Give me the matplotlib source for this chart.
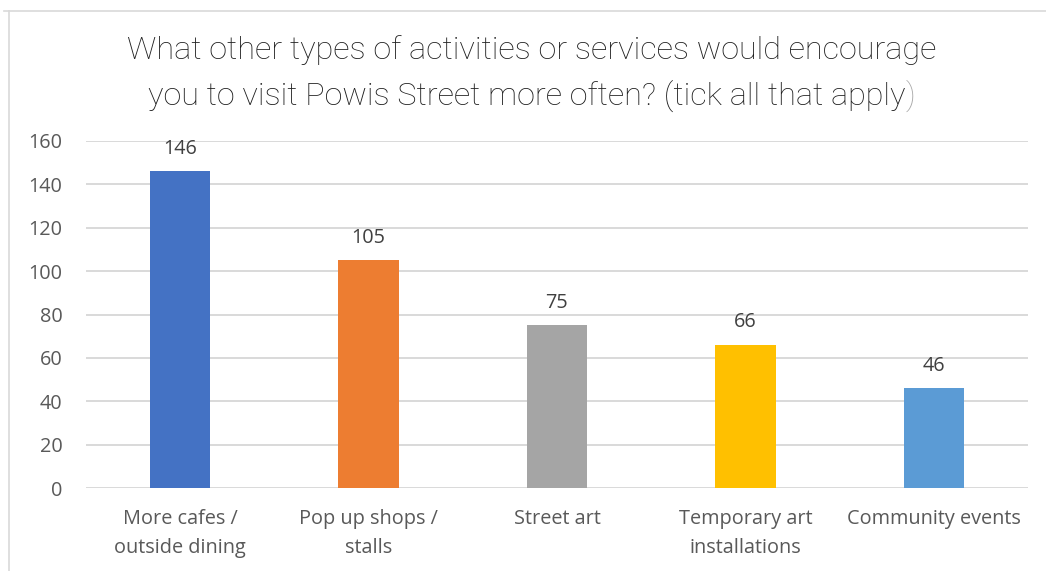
import matplotlib
matplotlib.use("Agg")
import matplotlib.pyplot as plt
from matplotlib.lines import Line2D

categories = ["More cafes /\noutside dining", "Pop up shops /\nstalls", "Street art",
              "Temporary art\ninstallations", "Community events"]
counts = [146, 105, 75, 66, 46]
bar_colors = ["#4472C4", "#ED7D31", "#A5A5A5", "#FFC000", "#5B9BD5"]
y_ticks = [0, 20, 40, 60, 80, 100, 120, 140, 160]
title_line1 = "What other types of activities or services would encourage"
title_line2 = "you to visit Powis Street more often? (tick all that apply"

W, H = 1046, 571
fig = plt.figure(figsize=(W / 100, H / 100), dpi=100)
ax = fig.add_axes([86 / W, 1 - 488 / H, (1028 - 86) / W, (488 - 141) / H])

label_font = "Open Sans"
text_grey = "#595959"
fs = 14.3

x = range(len(categories))
bars = ax.bar(x, counts, width=0.32, color=bar_colors, zorder=3)
for b, v in zip(bars, counts):
    ax.annotate(str(v), (b.get_x() + b.get_width() / 2, v), xytext=(0, 9),
                textcoords="offset points", ha="center", va="bottom",
                fontsize=fs, color="#404040", family=label_font)

ax.set_xlim(-0.5, len(categories) - 0.5)
ax.set_ylim(0, 160)
ax.set_yticks(y_ticks)
ax.set_yticklabels([str(t) for t in y_ticks], family=label_font, fontsize=fs, color=text_grey)
ax.set_xticks(list(x))
ax.set_xticklabels(categories, family=label_font, fontsize=fs, color=text_grey,
                   linespacing=1.6)
ax.tick_params(length=0)
ax.tick_params(axis="y", pad=17)
ax.tick_params(axis="x", pad=15)
ax.grid(axis="y", color="#D9D9D9", linewidth=1.4, zorder=0)
for s in ax.spines.values():
    s.set_visible(False)

# chart frame: top and left edges only
fig.add_artist(Line2D([4 / W, 1], [1 - 11 / H] * 2, color="#D9D9D9", linewidth=1.2))
fig.add_artist(Line2D([9 / W] * 2, [0, 1 - 11 / H], color="#D9D9D9", linewidth=1.2))

title_kw = dict(family="Roboto", fontweight="light", fontsize=23.3, color="#1F1F1F")
fig.text(0.508, 1 - 50 / H, title_line1, ha="center", va="center", **title_kw)
line2 = fig.text(0.508, 1 - 96 / H, title_line2, ha="center", va="center", **title_kw)
paren = fig.text(0, 1 - 96 / H, ")", ha="left", va="center",
                 **{**title_kw, "color": "#A6A6A6"})

fig.canvas.draw()
r = fig.canvas.get_renderer()
w2 = line2.get_window_extent(r).width
wp = paren.get_window_extent(r).width
cx = 0.508 * W
left = cx - (w2 + wp) / 2
line2.set_ha("left")
line2.set_x(left / W)
paren.set_x((left + w2) / W)

fig.savefig("out.png", dpi=100, facecolor="white")
